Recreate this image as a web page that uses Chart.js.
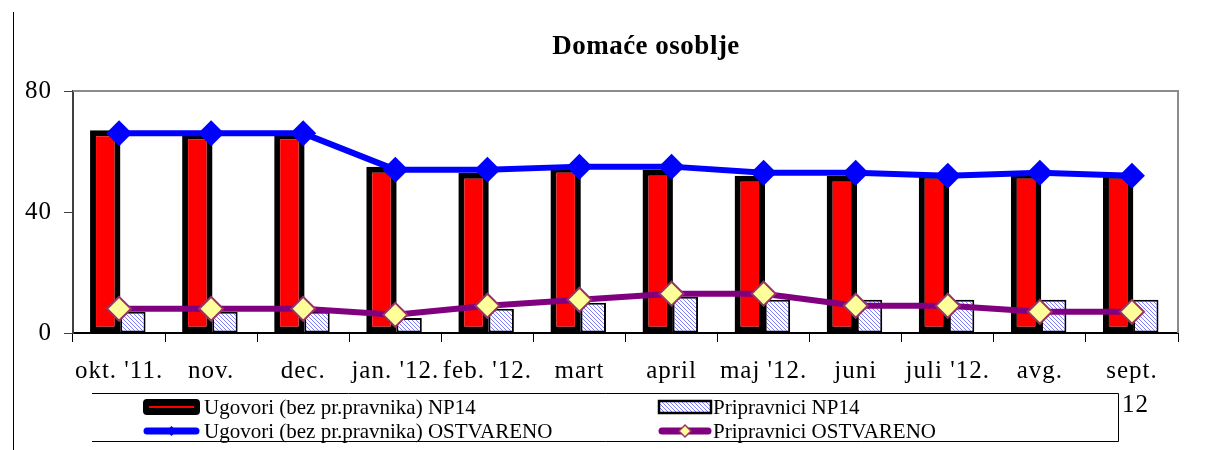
<!DOCTYPE html>
<html>
<head>
<meta charset="utf-8">
<title>Domaće osoblje</title>
<script src="https://cdn.jsdelivr.net/npm/chart.js@4.4.0/dist/chart.umd.min.js"></script>
<style>
  html, body { margin: 0; padding: 0; background: #fff; }
  #wrap { width: 1214px; height: 450px; }
</style>
</head>
<body>
<div id="wrap"><canvas id="chart" width="1214" height="450"></canvas></div>
<script>
// Data
const months = ["okt. '11.", 'nov.', 'dec.', "jan. '12.", "feb. '12.", 'mart', 'april', "maj '12.", 'juni', "juli '12.", 'avg.', ['sept.', ' 12']];
const ugovoriPlan = [67, 66, 66, 55, 53, 55, 54, 52, 52, 53, 53, 53];
const pripravniciPlan = [7, 7, 7, 5, 8, 10, 12, 11, 11, 11, 11, 11];
const ugovoriOstvareno = [66, 66, 66, 54, 54, 55, 55, 53, 53, 52, 53, 52];
const pripravniciOstvareno = [8, 8, 8, 6, 9, 11, 13, 13, 9, 9, 7, 7];
const yTicks = [0, 40, 80];

const SERIF = '"Liberation Serif", "Times New Roman", serif';

// Blue diagonal hatch for the trainee bars
function makeHatch(ctx) {
  const c = document.createElement('canvas');
  c.width = 4; c.height = 4;
  const g = c.getContext('2d');
  g.fillStyle = '#ffffff';
  g.fillRect(0, 0, 4, 4);
  g.strokeStyle = '#7e7eff';
  g.lineWidth = 1;
  g.beginPath();
  g.moveTo(-1, -1); g.lineTo(5, 5);
  g.moveTo(-1, 3); g.lineTo(1, 5);
  g.moveTo(3, -1); g.lineTo(5, 1);
  g.stroke();
  return ctx.createPattern(c, 'repeat');
}

function diamond(ctx, x, y, r) {
  ctx.beginPath();
  ctx.moveTo(x - r, y);
  ctx.lineTo(x, y - r);
  ctx.lineTo(x + r, y);
  ctx.lineTo(x, y + r);
  ctx.closePath();
}

// Title, outer frame and plot border
const frame = {
  id: 'frame',
  beforeDraw(chart) {
    const ctx = chart.ctx;
    ctx.letterSpacing = '1px';
    ctx.save();
    ctx.strokeStyle = '#000';
    ctx.lineWidth = 1;
    ctx.beginPath();
    ctx.moveTo(13.5, 12);
    ctx.lineTo(13.5, 450);
    ctx.stroke();
    ctx.letterSpacing = '0.5px';
    ctx.fillStyle = '#000';
    ctx.font = 'bold 27px ' + SERIF;
    ctx.textAlign = 'center';
    ctx.textBaseline = 'middle';
    ctx.fillText('Domaće osoblje', 646, 47);
    ctx.restore();
  },
  beforeDatasetsDraw(chart) {
    const { ctx, chartArea: a } = chart;
    ctx.save();
    ctx.strokeStyle = '#8c8c8c';
    ctx.lineWidth = 2;
    ctx.beginPath();
    ctx.moveTo(a.left, a.top);
    ctx.lineTo(a.right, a.top);
    ctx.lineTo(a.right, a.bottom);
    ctx.stroke();
    ctx.restore();
  }
};

// Two-column boxed legend
const legendBox = {
  id: 'legendBox',
  afterDraw(chart) {
    const ctx = chart.ctx;
    const sets = chart.data.datasets;
    ctx.save();
    ctx.letterSpacing = '0px';
    ctx.strokeStyle = '#000';
    ctx.lineWidth = 1;
    ctx.beginPath();
    ctx.moveTo(92, 393.5);
    ctx.lineTo(1118.5, 393.5);
    ctx.lineTo(1118.5, 441.5);
    ctx.lineTo(92, 441.5);
    ctx.stroke();

    const colX = [143, 658];
    const colW = [57, 54];
    const textX = [204, 713];
    const rowY = [407, 431];
    sets.forEach((ds, i) => {
      const col = i % 2;
      const x = colX[col];
      const w = colW[col];
      const y = rowY[Math.floor(i / 2)];
      if (ds.type === 'line') {
        ctx.strokeStyle = ds.borderColor;
        ctx.lineWidth = 7;
        ctx.lineCap = 'round';
        ctx.beginPath();
        ctx.moveTo(x + 4, y);
        ctx.lineTo(x + w - 4, y);
        ctx.stroke();
        diamond(ctx, x + w / 2, y, ds.pointBorderWidth ? 6 : 5);
        ctx.fillStyle = ds.pointBackgroundColor;
        ctx.fill();
        if (ds.pointBorderWidth) {
          ctx.lineWidth = 1.5;
          ctx.strokeStyle = ds.pointBorderColor;
          ctx.stroke();
        }
      } else if (i === 0) {
        ctx.fillStyle = '#000';
        ctx.beginPath();
        ctx.roundRect(x, y - 8, w, 16, 4);
        ctx.fill();
        ctx.strokeStyle = ds.backgroundColor;
        ctx.lineWidth = 2;
        ctx.beginPath();
        ctx.moveTo(x + 6, y);
        ctx.lineTo(x + w - 6, y);
        ctx.stroke();
      } else {
        ctx.fillStyle = ds.backgroundColor;
        ctx.fillRect(x + 1, y - 6, w - 2, 12);
        ctx.strokeStyle = '#000';
        ctx.lineWidth = 2.5;
        ctx.strokeRect(x + 1, y - 6, w - 2, 12);
      }
      ctx.fillStyle = '#000';
      ctx.font = '21px ' + SERIF;
      ctx.textAlign = 'left';
      ctx.textBaseline = 'middle';
      ctx.fillText(ds.label, textX[col], y + 1);
    });
    ctx.restore();
  }
};

const canvas = document.getElementById('chart');
const ctx = canvas.getContext('2d');
const hatch = makeHatch(ctx);

new Chart(ctx, {
  type: 'bar',
  data: {
    labels: months,
    datasets: [
      {
        label: 'Ugovori (bez pr.pravnika) NP14',
        data: ugovoriPlan,
        backgroundColor: '#ff0000',
        borderColor: '#000000',
        borderWidth: 6,
        borderSkipped: false,
        barPercentage: 1.1,
        order: 2
      },
      {
        label: 'Pripravnici NP14',
        data: pripravniciPlan,
        backgroundColor: hatch,
        borderColor: '#000000',
        borderWidth: 2,
        borderSkipped: false,
        barPercentage: 0.92,
        order: 2
      },
      {
        type: 'line',
        label: 'Ugovori (bez pr.pravnika) OSTVARENO',
        data: ugovoriOstvareno,
        borderColor: '#0000ff',
        borderWidth: 6,
        pointStyle: 'rectRot',
        pointRadius: 13,
        pointBackgroundColor: '#0000ff',
        pointBorderColor: '#0000ff',
        pointBorderWidth: 0,
        tension: 0,
        order: 0
      },
      {
        type: 'line',
        label: 'Pripravnici OSTVARENO',
        data: pripravniciOstvareno,
        borderColor: '#800080',
        borderWidth: 6,
        pointStyle: 'rectRot',
        pointRadius: 12,
        pointBackgroundColor: '#ffff99',
        pointBorderColor: '#993366',
        pointBorderWidth: 2,
        tension: 0,
        order: 1
      }
    ]
  },
  options: {
    responsive: false,
    animation: false,
    events: [],
    layout: { padding: { top: 91, right: 36, left: 0, bottom: 0 } },
    datasets: {
      bar: { categoryPercentage: 0.6 }
    },
    plugins: {
      legend: { display: false },
      title: { display: false },
      tooltip: { enabled: false }
    },
    scales: {
      x: {
        afterFit(scale) { scale.height = 117; },
        grid: {
          drawOnChartArea: false,
          offset: true,
          tickLength: 9,
          color: '#000000',
          lineWidth: 1
        },
        border: { color: '#000000', width: 2 },
        ticks: {
          autoSkip: false,
          maxRotation: 0,
          minRotation: 0,
          padding: 12,
          color: '#000000',
          font: { family: SERIF, size: 25, lineHeight: 1.36 }
        }
      },
      y: {
        min: 0,
        max: 80,
        afterFit(scale) { scale.width = 73; },
        afterBuildTicks(scale) { scale.ticks = yTicks.map(v => ({ value: v })); },
        grid: {
          drawOnChartArea: false,
          tickLength: 9,
          color: '#404040',
          lineWidth: 1
        },
        border: { color: '#404040', width: 2 },
        ticks: {
          padding: 12,
          color: '#000000',
          font: { family: SERIF, size: 25 }
        }
      }
    }
  },
  plugins: [frame, legendBox]
});
</script>
</body>
</html>
